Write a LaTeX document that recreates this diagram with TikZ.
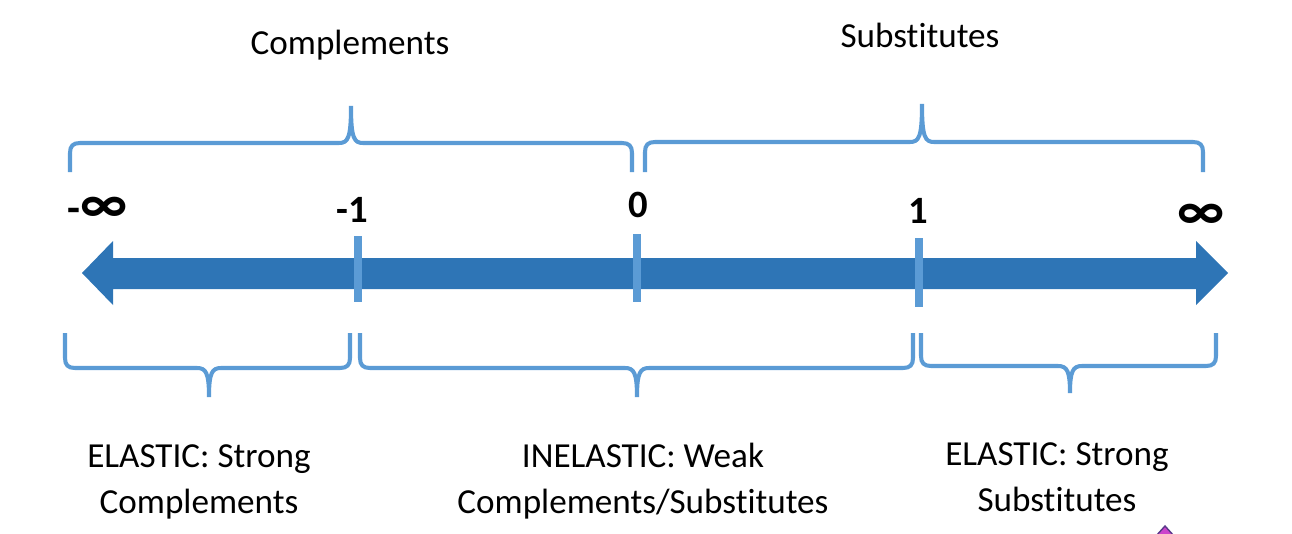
\documentclass[tikz,border=0pt]{standalone}
\usepackage{fontspec}
\setmainfont{Carlito}[Ligatures=NoCommon]
\definecolor{arrowcol}{HTML}{2E75B6}
\definecolor{bracecol}{HTML}{5B9BD5}
\definecolor{markcol}{HTML}{CC44CC}
\definecolor{markedge}{HTML}{5A3A8A}
\tikzset{
  bracepath/.style={draw=bracecol, line width=2.3pt},
  tickbar/.style={draw=bracecol, line width=4.5pt},
  numlabel/.style={inner sep=0pt, font=\fontsize{22}{26}\selectfont\bfseries, anchor=base},
  inflabel/.style={inner sep=0pt, font=\fontsize{32}{34}\selectfont\bfseries, anchor=base},
  toplabel/.style={inner sep=0pt, font=\fontsize{20}{24}\selectfont, anchor=base},
  botlabel/.style={inner sep=0pt, font=\fontsize{20}{26}\selectfont, align=center, anchor=base},
}
\begin{document}
\begin{tikzpicture}[x=0.02cm, y=-0.02cm]
\useasboundingbox (0,0) rectangle (1292,534);
% main double arrow
\fill[arrowcol] (82,273) -- (113,241) -- (113,258) -- (1196,258) -- (1196,241)
  -- (1228,273) -- (1196,305) -- (1196,289) -- (113,289) -- (113,305) -- cycle;
% ticks
\coordinate (tA1) at (358,236); \coordinate (tA2) at (358,302);
\coordinate (tB1) at (637,234); \coordinate (tB2) at (637,302);
\coordinate (tC1) at (919,238); \coordinate (tC2) at (919,307);
\draw[tickbar] (tA1) -- (tA2);
\draw[tickbar] (tB1) -- (tB2);
\draw[tickbar] (tC1) -- (tC2);
% top braces
\draw[bracepath] (70,172) -- (70,153) .. controls (70,146) and (73,143) .. (80,143)
  -- (339,143) .. controls (348,143) and (351,138) .. (351,106)
  .. controls (351,138) and (354,143) .. (363,143)
  -- (622,143) .. controls (629,143) and (632,146) .. (632,153) -- (632,172);
\draw[bracepath] (645,172) -- (645,152) .. controls (645,145) and (648,142) .. (655,142)
  -- (910,142) .. controls (919,142) and (922,137) .. (922,104)
  .. controls (922,137) and (925,142) .. (934,142)
  -- (1193,142) .. controls (1200,142) and (1203,145) .. (1203,152) -- (1203,172);
% bottom braces
\draw[bracepath] (65,333) -- (65,358) .. controls (65,365) and (68,368) .. (75,368)
  -- (197,368) .. controls (206,368) and (209,373) .. (209,397)
  .. controls (209,373) and (212,368) .. (221,368)
  -- (340,368) .. controls (347,368) and (350,365) .. (350,358) -- (350,333);
\draw[bracepath] (360,333) -- (360,358) .. controls (360,365) and (363,368) .. (370,368)
  -- (625,368) .. controls (634,368) and (637,373) .. (637,397)
  .. controls (637,373) and (640,368) .. (649,368)
  -- (903,368) .. controls (910,368) and (913,365) .. (913,358) -- (913,333);
\draw[bracepath] (921,333) -- (921,356) .. controls (921,363) and (924,366) .. (931,366)
  -- (1058,366) .. controls (1067,366) and (1070,371) .. (1070,393)
  .. controls (1070,371) and (1073,366) .. (1082,366)
  -- (1206,366) .. controls (1213,366) and (1216,363) .. (1216,356) -- (1216,333);
% top labels
\node[toplabel] (comp) at (350,54) {Complements};
\node[toplabel] (subs) at (920,48) {Substitutes};
% number labels
\node[inflabel] (nminf) at (98,222) {{\fontsize{24}{26}\selectfont -}∞};
\node[numlabel] (nm1) at (352,222) {-1};
\node[numlabel] (n0) at (638,217) {0};
\node[numlabel] (n1) at (918,223) {1};
\node[inflabel] (ninf) at (1201,229) {∞};
% bottom labels
\node[botlabel] (elc) at (199,513) {ELASTIC: Strong\\Complements};
\node[botlabel] (inel) at (643,513) {INELASTIC: Weak\\Complements/Substitutes};
\node[botlabel] (els) at (1057,511) {ELASTIC: Strong\\Substitutes};
% small mark at bottom edge
\filldraw[fill=markcol, draw=markedge, line width=0.8pt] (1165,526) -- (1174,536) -- (1156,536) -- cycle;
\end{tikzpicture}
\end{document}
